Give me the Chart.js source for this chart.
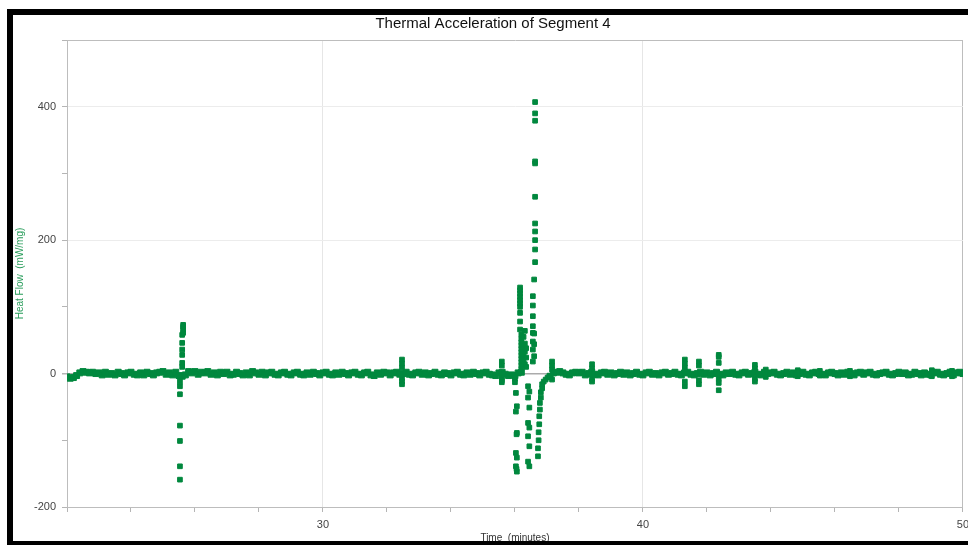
<!DOCTYPE html>
<html>
<head>
<meta charset="utf-8">
<title>Thermal Acceleration of Segment 4</title>
<script src="https://cdn.jsdelivr.net/npm/chart.js@4.4.1/dist/chart.umd.min.js"></script>
<style>
    html, body { margin: 0; padding: 0; background: #fff; }
    body { width: 968px; height: 545px; position: relative; overflow: hidden; }
    #area-grafico { position: absolute; left: 13px; top: 15px; width: 962px; height: 529px; }
    #moldura { position: absolute; left: 7px; top: 9px; width: 1000px; height: 536px; box-sizing: border-box;
               border-left: 6px solid #000; border-top: 6px solid #000; border-bottom: 4px solid #000; pointer-events: none; }
</style>
</head>
<body>
<div id="area-grafico"><canvas id="grafico-segmento"></canvas></div>
<div id="moldura"></div>
<script>
// Amostragem da linha de base (minutos)
const inicioTrechoA = 22.0;
const inicioTrechoB = 37.1;
const passoAmostra = 0.1;

// Linha de base antes do evento (22.0 -> 36.2)
const linhaBaseA = [
    -5, -7, -6, -3, 1, 3, 2, 1, 2, 0,
    1, -2, 2, -1, 0, -2, 2, 0, -2, 1,
    2, -1, -2, 1, -2, 2, 0, -2, 1, 2,
    3, -1, 1, -2, 2, -3, -4, -2, 3, 1,
    3, -1, 2, 1, 3, -1, 1, -2, 2, 0,
    2, -2, -1, 2, 0, -2, 1, -2, 3, 1,
    -1, 2, -2, 1, 2, -1, -2, 1, 2, -1,
    -2, 1, 2, -1, -2, 1, -1, 2, 0, -2,
    1, 2, -1, -2, 1, -1, 2, 0, -2, 1,
    2, -1, -2, 1, 2, -2, -3, 1, -1, 2,
    1, -2, 1, 2, -1, 0, 2, -1, -2, 1,
    2, -1, 1, -2, 0, 2, -1, -2, 1, 0,
    -2, 1, 2, -1, -2, 1, -1, 2, 0, -2,
    1, 2, -1, -2, -3, 1, 2, -1, -3, -2,
    -3, 1, 2
];

// Linha de base depois do evento (37.1 -> 50.0)
const linhaBaseB = [
    -4, 1, 2, 3, 1, -1, -2, 1, 2,
    1, 2, -2, 0, 2, -1, -2, 1, 2, -1,
    1, -2, 0, 2, -1, 1, -2, 0, 2, -1,
    -2, 1, 2, -1, 0, -2, 1, 2, -1, 0,
    2, -1, -2, 1, 2, -1, -2, 0, 2, -1,
    1, -2, 0, 2, -1, -2, 1, 0, 2, -1,
    -2, 1, 2, -1, 0, 2, -1, -2, 2, 0,
    1, 2, -1, -2, 0, 2, -1, 1, -2, 0,
    2, -1, -2, 1, 2, 0, -1, -2, 1, 2,
    0, -2, 1, -1, 2, 0, -2, 1, 2, -1,
    1, 2, -1, -2, 0, 1, 2, -1, -2, 0,
    2, 0, 1, -2, -1, 2, 0, -2, 1, -1,
    -2, 1, 2, -1, -2, 0, 2, -2, 1, 2,
    0
];

// Colunas [tempo, valores] do primeiro pico
const picoInicial = [
    [25.53, [-5, -12, -19, -31, -78, -101, -139, -159]],
    [25.60, [10, 16, 28, 36, 46, 58]],
    [25.63, [61, 66, 70, 73]]
];

// Pequenos picos ao longo da linha de base
const picosMenores = [
    [32.47, [21, 15, 9, -7, -12, -16]],
    [35.59, [18, 12, -6, -10, -13]],
    [36.00, [-8, -13]],
    [37.16, [18, 12, 6, -9]],
    [38.41, [14, 8, -8, -12]],
    [41.31, [21, 15, 9, -12, -19]],
    [41.75, [18, 12, -10, -16]],
    [42.37, [28, 25, 16, -8, -14, -25]],
    [43.50, [13, 8, -8, -12]],
    [43.84, [6, -5]],
    [44.84, [5, -4]],
    [45.53, [4, -3]],
    [46.47, [4, -4]],
    [49.03, [5, -4]],
    [49.66, [4, -4]]
];

// Evento principal: valores negativos
const eventoDescida = [
    [36.03, [-29, -57, -119, -139]],
    [36.06, [-49, -89, -126, -147]],
    [36.05, [-91, -143]],
    [36.41, [-19, -36, -74, -94, -132]],
    [36.45, [-27, -51, -81, -109, -139]]
];

// Evento principal: valores positivos
const eventoSubida = [
    [36.16, [129, 125, 120, 115, 110, 105, 100, 91, 78, 66]],
    [36.20, [58, 52, 47, 42, 37, 32, 27, 22, 17, 12, 7]],
    [36.27, [55, 40, 30, 20]],
    [36.31, [64, 45, 33, 14]],
    [36.35, [38, 24, 10]],
    [36.56, [116, 102, 86, 71, 61, 48, 36, 18]],
    [36.60, [141, 60, 44, 26]],
    [36.63, [407, 390, 379, 318, 315, 265, 225, 213, 200, 186, 167]]
];

// Recuperação depois do evento
const eventoRecuperacao = [
    [36.72, [-124, -112]],
    [36.74, [-100, -88]],
    [36.76, [-76, -64]],
    [36.78, [-54, -44]],
    [36.81, [-36, -28]],
    [36.85, [-22, -16]],
    [36.90, [-12]],
    [36.96, [-9]],
    [37.02, [-6]],
    [37.08, [-4]]
];

const corPontos = 'rgb(0, 136, 62)';
const fonte = "'Liberation Sans', Arial, sans-serif";

// Converter linha de base em pontos
function linhaBaseParaPontos(inicio, valores) {
    return valores.map((v, i) => ({ x: +(inicio + i * passoAmostra).toFixed(2), y: v }));
}

// Converter colunas em pontos
function colunasParaPontos(colunas) {
    return colunas.flatMap(([t, valores]) => valores.map(v => ({ x: t, y: v })));
}

document.addEventListener('DOMContentLoaded', function() {
    configurarGrafico();
});

function configurarGrafico() {
    const pontosBase = linhaBaseParaPontos(inicioTrechoA, linhaBaseA)
        .concat(linhaBaseParaPontos(inicioTrechoB, linhaBaseB));
    const pontosEvento = [].concat(
        colunasParaPontos(picoInicial),
        colunasParaPontos(picosMenores),
        colunasParaPontos(eventoDescida),
        colunasParaPontos(eventoSubida),
        colunasParaPontos(eventoRecuperacao)
    );

    const estiloPonto = {
        pointStyle: 'rect',
        borderWidth: 1,
        backgroundColor: corPontos,
        borderColor: corPontos,
        showLine: false
    };

    const ctx = document.getElementById('grafico-segmento');
    window.graficoSegmento = new Chart(ctx, {
        type: 'scatter',
        data: {
            datasets: [
                Object.assign({ label: 'Linha de base', data: pontosBase, pointRadius: 4.2 }, estiloPonto),
                Object.assign({ label: 'Evento', data: pontosEvento, pointRadius: 3.3 }, estiloPonto)
            ]
        },
        options: {
            responsive: true,
            maintainAspectRatio: false,
            animation: false,
            layout: { padding: { top: 0, right: 2, bottom: 0, left: 0 } },
            plugins: {
                legend: { display: false },
                tooltip: { enabled: false },
                title: {
                    display: true,
                    text: 'Thermal Acceleration of Segment 4',
                    color: '#111111',
                    font: { family: fonte, size: 15, weight: 'normal' },
                    padding: { top: 0, bottom: 7 }
                }
            },
            scales: {
                x: {
                    type: 'linear',
                    min: 22,
                    max: 50,
                    afterFit: function(scale) { scale.height = 37; },
                    ticks: {
                        stepSize: 2,
                        autoSkip: false,
                        maxRotation: 0,
                        padding: 6,
                        color: '#444444',
                        font: { family: fonte, size: 11 },
                        callback: v => (v % 10 === 0 ? v : '')
                    },
                    grid: {
                        color: c => {
                            const v = c.tick ? c.tick.value : null;
                            if (v === 50) return '#bdbdbd';
                            return (v === 30 || v === 40) ? '#e6e6e6' : 'rgba(0,0,0,0)';
                        },
                        tickColor: '#b5b5b5',
                        tickLength: 5
                    },
                    border: { color: '#bdbdbd' },
                    title: {
                        display: true,
                        text: 'Time  (minutes)',
                        color: '#333333',
                        font: { family: fonte, size: 10 },
                        padding: 0
                    }
                },
                y: {
                    type: 'linear',
                    min: -200,
                    max: 500,
                    afterFit: function(scale) { scale.width = 54; },
                    ticks: {
                        stepSize: 100,
                        padding: 6,
                        color: '#444444',
                        font: { family: fonte, size: 11 },
                        callback: v => (v % 200 === 0 ? v : '')
                    },
                    grid: {
                        color: c => {
                            const v = c.tick ? c.tick.value : null;
                            if (v === 0) return '#ababab';
                            if (v === 500) return '#bdbdbd';
                            return (v === 200 || v === 400) ? '#ececec' : 'rgba(0,0,0,0)';
                        },
                        lineWidth: c => (c.tick && c.tick.value === 0 ? 1.5 : 1),
                        tickColor: '#b5b5b5',
                        tickLength: 5
                    },
                    border: { color: '#bdbdbd' },
                    title: {
                        display: true,
                        text: 'Heat Flow  (mW/mg)',
                        color: '#2a9d5c',
                        font: { family: fonte, size: 10 },
                        padding: 1
                    }
                }
            }
        }
    });
}
</script>
</body>
</html>
